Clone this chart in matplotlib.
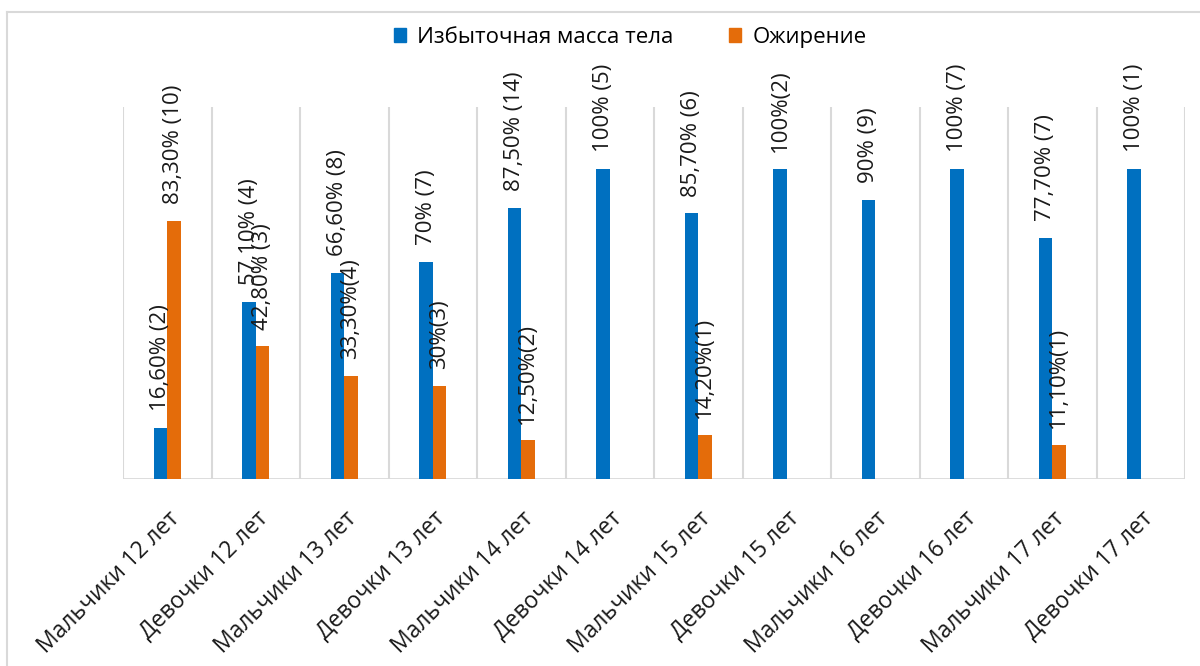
import numpy as np
import matplotlib.pyplot as plt
from matplotlib.lines import Line2D
from matplotlib.patches import Patch

plt.rcParams['font.family'] = ['Open Sans', 'DejaVu Sans']

groups = ['Мальчики 12 лет', 'Девочки 12 лет', 'Мальчики 13 лет', 'Девочки 13 лет',
          'Мальчики 14 лет', 'Девочки 14 лет', 'Мальчики 15 лет', 'Девочки 15 лет',
          'Мальчики 16 лет', 'Девочки 16 лет', 'Мальчики 17 лет', 'Девочки 17 лет']

overweight = [16.6, 57.1, 66.6, 70, 87.5, 100, 85.7, 100, 90, 100, 77.7, 100]
overweight_labels = ['16,60% (2)', '57,10% (4)', '66,60% (8)', '70% (7)', '87,50% (14)',
                     '100% (5)', '85,70% (6)', '100%(2)', '90% (9)', '100% (7)',
                     '77,70% (7)', '100% (1)']

obesity = [83.3, 42.8, 33.3, 30, 12.5, None, 14.2, None, None, None, 11.1, None]
obesity_labels = ['83,30% (10)', '42,80% (3)', '33,30%(4)', '30%(3)', '12,50%(2)', None,
                  '14,20%(1)', None, None, None, '11,10%(1)', None]

blue = '#0070C0'
orange = '#E46C0A'
grid_gray = '#D9D9D9'

fig = plt.figure(figsize=(12, 6.66), dpi=100)
ax = fig.add_axes([0.1025, 0.2808, 0.885, 0.5585])

x = np.arange(len(groups))
w = 0.15

def draw_series(values, labels, offset, color):
    for xi, v, lab in zip(x, values, labels):
        if v is None:
            continue
        ax.bar(xi + offset, v, width=w, color=color, zorder=3)
        ax.annotate(lab, (xi + offset, v), xytext=(0, 12), textcoords='offset points',
                    rotation=90, ha='center', va='bottom', fontsize=16,
                    color='#1a1a1a', zorder=4)

draw_series(overweight, overweight_labels, -w / 2, blue)
draw_series(obesity, obesity_labels, w / 2, orange)

ax.set_xlim(-0.5, len(groups) - 0.5)
ax.set_ylim(0, 120)

# category separators
for b in np.arange(-0.5, len(groups), 1.0):
    ax.axvline(b, color=grid_gray, lw=1.5, zorder=1)
ax.axhline(0, color=grid_gray, lw=2, zorder=2)

for s in ax.spines.values():
    s.set_visible(False)
ax.set_yticks([])
ax.set_xticks(x)
ax.set_xticklabels(groups, rotation=45, ha='right', rotation_mode='anchor',
                   fontsize=16.5, color='#1a1a1a')
ax.tick_params(axis='x', length=0, pad=20)

handles = [Patch(color=blue), Patch(color=orange)]
fig.legend(handles, ['Избыточная масса тела', 'Ожирение'], loc='center',
           bbox_to_anchor=(0.525, 0.944), ncol=2, frameon=False, fontsize=16,
           handlelength=0.55, handleheight=0.55, handletextpad=0.5, columnspacing=2.5)

# outer frame (top and left edges)
fig.add_artist(Line2D([7 / 1200, 1.0], [1 - 12 / 666] * 2, color=grid_gray, lw=1.5))
fig.add_artist(Line2D([7 / 1200] * 2, [0.0, 1 - 12 / 666], color=grid_gray, lw=1.5))

fig.savefig('out.png', dpi=100)
